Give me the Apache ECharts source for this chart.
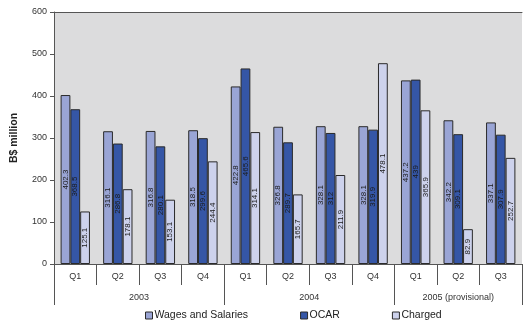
<!DOCTYPE html>
<html>
<head>
<meta charset="utf-8">
<script src="https://cdn.jsdelivr.net/npm/echarts@6/dist/echarts.min.js"></script>
<style>
  html, body { margin: 0; padding: 0; background: #ffffff; }
  #chart { width: 525px; height: 323px; }
</style>
</head>
<body>
<div id="chart"></div>
<script>
// Quarterly government expenditure, B$ million
const quarters = ['Q1', 'Q2', 'Q3', 'Q4', 'Q1', 'Q2', 'Q3', 'Q4', 'Q1', 'Q2', 'Q3'];
const years = ['2003', '2004', '2005 (provisional)'];
const yearCounts = [4, 4, 3];
const wages = [402.3, 316.1, 316.8, 318.5, 422.8, 326.8, 328.1, 328.1, 437.2, 342.2, 337.1];
const ocar = [368.5, 286.8, 280.1, 299.6, 465.6, 289.7, 312, 319.9, 439, 309.1, 307.9];
const charged = [125.1, 178.1, 153.1, 244.4, 314.1, 165.7, 211.9, 478.1, 365.9, 82.9, 252.7];
const yTicks = [0, 100, 200, 300, 400, 500, 600];

// Year group boundaries and label centres, in category units
const yearBounds = [0];
const yearCentres = [];
yearCounts.forEach((n, i) => {
  const start = yearBounds[i];
  yearBounds.push(start + n);
  yearCentres.push(start + n / 2);
});

const fontFamily = 'Liberation Sans, Arial, sans-serif';
const textColor = '#333333';

function barSeries(name, data, color) {
  return {
    name: name,
    type: 'bar',
    data: data,
    barGap: '0%',
    barCategoryGap: '31%',
    itemStyle: { color: color, borderColor: '#2a2a2a', borderWidth: 1 },
    label: {
      show: true,
      position: 'inside',
      rotate: 90,
      fontSize: 8,
      fontFamily: fontFamily,
      color: '#1a1a1a',
      formatter: p => String(p.value)
    }
  };
}

const chart = echarts.init(document.getElementById('chart'), null, { renderer: 'canvas' });
chart.setOption({
  animation: false,
  backgroundColor: '#ffffff',
  grid: {
    left: 54, right: 3, top: 12, bottom: 59,
    show: true, backgroundColor: '#dcdcdd', borderWidth: 0
  },
  legend: {
    left: 140, top: 305,
    itemWidth: 7, itemHeight: 7, itemGap: 52,
    icon: 'rect',
    itemStyle: { borderColor: '#2a2a2a', borderWidth: 1 },
    textStyle: { fontSize: 10.5, fontFamily: fontFamily, color: '#222222', padding: [0, 0, 0, -3] },
    data: ['Wages and Salaries', 'OCAR', 'Charged']
  },
  xAxis: [
    {
      type: 'category',
      data: quarters,
      position: 'bottom',
      axisLine: { show: true, lineStyle: { color: '#555555', width: 1 } },
      axisTick: { show: true, interval: 0, length: 21, lineStyle: { color: '#555555' } },
      axisLabel: { interval: 0, margin: 8, fontSize: 9, fontFamily: fontFamily, color: textColor }
    },
    {
      type: 'value',
      min: 0, max: quarters.length,
      position: 'bottom',
      axisLine: { show: false },
      splitLine: { show: false },
      axisTick: { show: true, customValues: yearBounds, length: 41, lineStyle: { color: '#555555' } },
      axisLabel: {
        customValues: yearCentres,
        margin: 29,
        fontSize: 9, fontFamily: fontFamily, color: textColor,
        formatter: v => years[yearCentres.indexOf(v)] || ''
      }
    },
    {
      type: 'value',
      min: 0, max: quarters.length,
      position: 'top',
      axisLine: { show: true, lineStyle: { color: '#555555', width: 1 } },
      axisTick: { show: false },
      axisLabel: { show: false },
      splitLine: { show: false }
    }
  ],
  yAxis: {
    type: 'value',
    min: yTicks[0], max: yTicks[yTicks.length - 1], interval: 100,
    name: 'B$ million',
    nameLocation: 'middle',
    nameGap: 34,
    nameTextStyle: { fontSize: 10.5, fontWeight: 'bold', fontFamily: fontFamily, color: '#222222' },
    axisLine: { show: true, lineStyle: { color: '#555555', width: 1 } },
    axisTick: { show: true, length: 4, lineStyle: { color: '#555555' } },
    axisLabel: { fontSize: 9, fontFamily: fontFamily, color: textColor, margin: 7 },
    splitLine: { show: false }
  },
  series: [
    barSeries('Wages and Salaries', wages, '#9aa5d5'),
    barSeries('OCAR', ocar, '#3556a6'),
    barSeries('Charged', charged, '#cdd2ec')
  ]
});
</script>
</body>
</html>
